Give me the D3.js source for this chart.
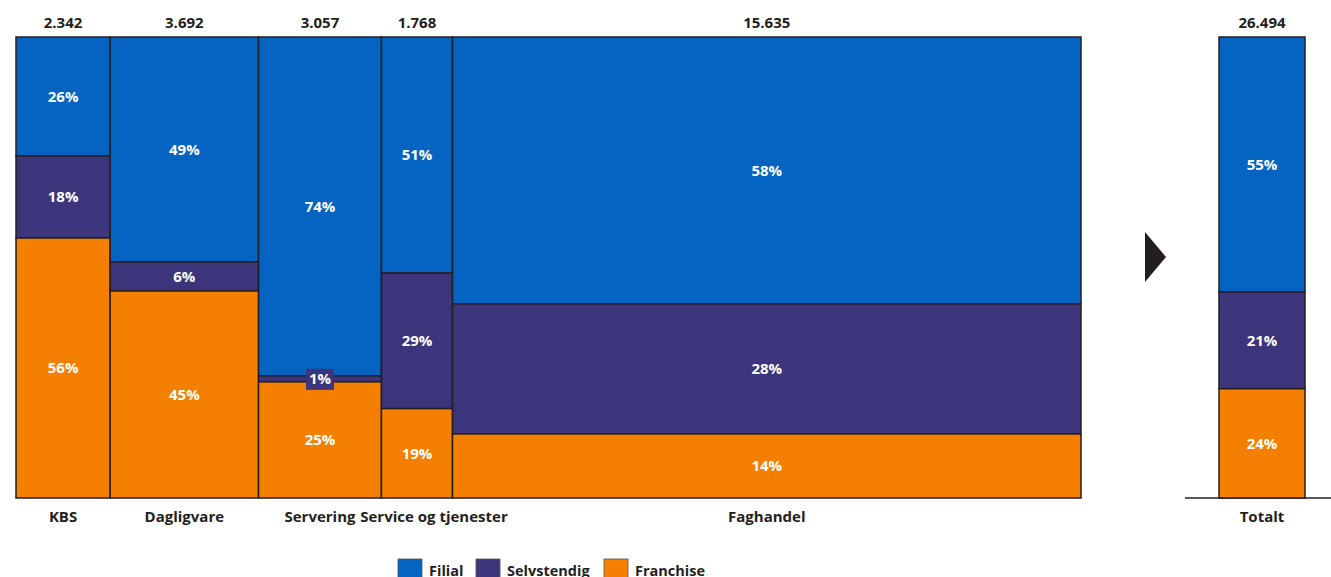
<!DOCTYPE html>
<html>
<head>
<meta charset="utf-8">
<script src="https://cdn.jsdelivr.net/npm/d3@7"></script>
<style>
  body { margin: 0; background: #fff; }
  svg text { font-family: "Open Sans", Lato, sans-serif; font-weight: bold; }
</style>
</head>
<body>
<svg id="chart" width="1331" height="577"></svg>
<script>
// categories and their totals (column widths)
const categories = ["KBS", "Dagligvare", "Servering", "Service og tjenester", "Faghandel"];
const totals = [2342, 3692, 3057, 1768, 15635];
const series = ["Filial", "Selvstendig", "Franchise"];
// shares per category, in percent (Filial, Selvstendig, Franchise)
const filial = [25.8, 48.8, 73.5, 51.2, 57.9];
const selvstendig = [17.8, 6.3, 1.3, 29.4, 28.2];
const franchise = [56.4, 44.9, 25.2, 19.4, 13.9];
// total column
const totalLabel = "Totalt";
const totalValue = 26494;
const totalShares = [55.3, 21.0, 23.7];

const colors = ["#0563c1", "#3d357c", "#f47f00"];
const stroke = "#231f20";

const svg = d3.select("#chart");
const yTop = 37, yBottom = 498;
const fmt = d3.format(",");
const fmtNo = v => fmt(v).replace(/,/g, ".");

const x = d3.scaleLinear().domain([0, d3.sum(totals)]).range([16, 1081]);
const y = d3.scaleLinear().domain([0, 100]).range([yTop, yBottom]);

// build cells
const cum = d3.cumsum([0].concat(totals));
const cells = [];
categories.forEach((c, i) => {
  const shares = [filial[i], selvstendig[i], franchise[i]];
  let acc = 0;
  shares.forEach((s, j) => {
    cells.push({ cat: c, i, j, x0: cum[i], x1: cum[i + 1], y0: acc, y1: acc + s, v: s });
    acc += s;
  });
});

const g = svg.append("g");

g.selectAll("rect.cell")
  .data(cells)
  .enter()
  .append("rect")
  .attr("class", "cell")
  .attr("x", d => x(d.x0))
  .attr("y", d => y(d.y0))
  .attr("width", d => x(d.x1) - x(d.x0))
  .attr("height", d => y(d.y1) - y(d.y0))
  .attr("fill", d => colors[d.j])
  .attr("stroke", stroke)
  .attr("stroke-width", 1.5);

// percent labels
cells.forEach(d => {
  const cx = (x(d.x0) + x(d.x1)) / 2;
  const cy = (y(d.y0) + y(d.y1)) / 2;
  const label = Math.round(d.v) + "%";
  if (y(d.y1) - y(d.y0) < 16) {
    // small segment: label on a box
    g.append("rect")
      .attr("x", cx - 14).attr("y", cy - 10)
      .attr("width", 28).attr("height", 21)
      .attr("fill", colors[d.j]);
  }
  g.append("text")
    .attr("x", cx).attr("y", cy)
    .attr("dy", "0.36em")
    .attr("text-anchor", "middle")
    .attr("fill", "#fff")
    .attr("font-size", 15)
    .text(label);
});

// totals above columns
g.selectAll("text.total")
  .data(categories)
  .enter()
  .append("text")
  .attr("class", "total")
  .attr("x", (c, i) => (x(cum[i]) + x(cum[i + 1])) / 2)
  .attr("y", 28)
  .attr("text-anchor", "middle")
  .attr("fill", "#231f20")
  .attr("font-size", 15)
  .text((c, i) => fmtNo(totals[i]));

// category labels ("Service og tjenester" is nudged right so it clears "Servering")
g.selectAll("text.cat")
  .data(categories)
  .enter()
  .append("text")
  .attr("class", "cat")
  .attr("x", (c, i) => (x(cum[i]) + x(cum[i + 1])) / 2)
  .attr("dx", c => c === "Service og tjenester" ? 17 : 0)
  .attr("y", 522)
  .attr("text-anchor", "middle")
  .attr("fill", "#231f20")
  .attr("font-size", 15)
  .text(c => c);

// arrow
svg.append("path")
  .attr("d", "M1145,232 L1166,257 L1145,282 Z")
  .attr("fill", "#231f20");

// total column
const xt = d3.scaleBand().domain([totalLabel]).range([1219, 1305]);
const tg = svg.append("g");
let acc = 0;
const tcells = totalShares.map((s, j) => {
  const c = { j, y0: acc, y1: acc + s, v: s };
  acc += s;
  return c;
});

tg.append("line")
  .attr("x1", 1185).attr("x2", 1331)
  .attr("y1", yBottom).attr("y2", yBottom)
  .attr("stroke", stroke).attr("stroke-width", 1.5);

tg.selectAll("rect")
  .data(tcells)
  .enter()
  .append("rect")
  .attr("x", xt(totalLabel))
  .attr("y", d => y(d.y0))
  .attr("width", xt.bandwidth())
  .attr("height", d => y(d.y1) - y(d.y0))
  .attr("fill", d => colors[d.j])
  .attr("stroke", stroke)
  .attr("stroke-width", 1.5);

tg.selectAll("text.pct")
  .data(tcells)
  .enter()
  .append("text")
  .attr("class", "pct")
  .attr("x", xt(totalLabel) + xt.bandwidth() / 2)
  .attr("y", d => (y(d.y0) + y(d.y1)) / 2)
  .attr("dy", "0.36em")
  .attr("text-anchor", "middle")
  .attr("fill", "#fff")
  .attr("font-size", 15)
  .text(d => Math.round(d.v) + "%");

tg.append("text")
  .attr("x", xt(totalLabel) + xt.bandwidth() / 2)
  .attr("y", 28)
  .attr("text-anchor", "middle")
  .attr("fill", "#231f20")
  .attr("font-size", 15)
  .text(fmtNo(totalValue));

tg.append("text")
  .attr("x", xt(totalLabel) + xt.bandwidth() / 2)
  .attr("y", 522)
  .attr("text-anchor", "middle")
  .attr("fill", "#231f20")
  .attr("font-size", 15)
  .text(totalLabel);

// legend
const legendX = [398, 476, 604];
const lg = svg.append("g");
series.forEach((s, j) => {
  lg.append("rect")
    .attr("x", legendX[j]).attr("y", 559)
    .attr("width", 24).attr("height", 24)
    .attr("fill", colors[j])
    .attr("stroke", "#555").attr("stroke-width", 0.8);
  lg.append("text")
    .attr("x", legendX[j] + 31).attr("y", 576)
    .attr("fill", "#231f20")
    .attr("font-size", 14.5)
    .text(s);
});
</script>
</body>
</html>
